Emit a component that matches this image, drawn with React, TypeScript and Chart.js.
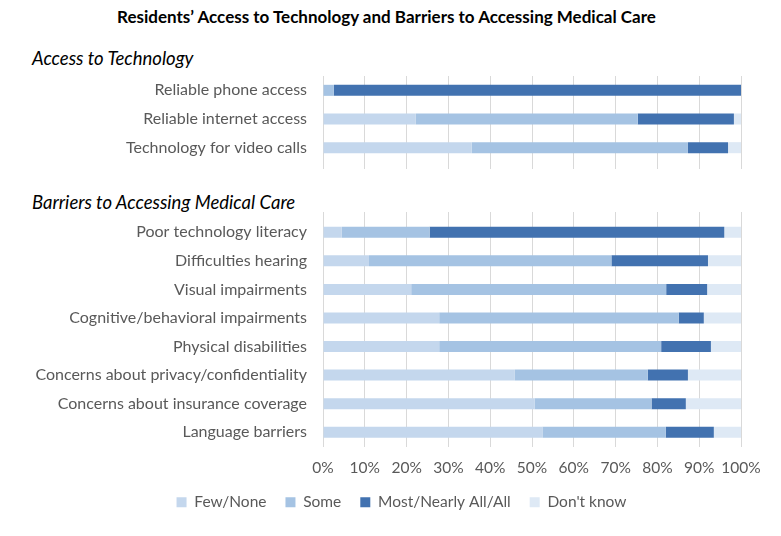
import React, { useEffect, useRef } from "react";
import { Chart, registerables } from "chart.js";

Chart.register(...registerables);

const seriesNames = ["Few/None", "Some", "Most/Nearly All/All", "Don't know"];
const seriesColors = ["#C4D7ED", "#A5C3E3", "#4272B0", "#DEE9F5"];

const mainTitle = "Residents\u2019 Access to Technology and Barriers to Accessing Medical Care";
const techHeader = "Access to Technology";
const barrierHeader = "Barriers to Accessing Medical Care";

const techCategories = [
  "Reliable phone access",
  "Reliable internet access",
  "Technology for video calls",
];
const techFewNone = [0, 22.2, 35.6];
const techSome = [2.6, 53.1, 51.7];
const techMost = [97.4, 23.0, 9.6];
const techDontKnow = [0, 1.7, 3.1];

const barrierCategories = [
  "Poor technology literacy",
  "Difficulties hearing",
  "Visual impairments",
  "Cognitive/behavioral impairments",
  "Physical disabilities",
  "Concerns about privacy/confidentiality",
  "Concerns about insurance coverage",
  "Language barriers",
];
const barrierFewNone = [4.5, 11.0, 21.1, 27.8, 27.8, 45.9, 50.6, 52.5];
const barrierSome = [21.0, 58.0, 61.0, 57.3, 53.1, 31.8, 28.0, 29.5];
const barrierMost = [70.5, 23.1, 9.8, 6.0, 11.9, 9.6, 8.2, 11.5];
const barrierDontKnow = [4.0, 7.9, 8.1, 8.9, 7.2, 12.7, 13.2, 6.5];

const axisMin = 0;
const axisMax = 100;
const axisStep = 10;

const FONT = "Lato";
const TEXT_GRAY = "#595959";
const GRID = "#D9D9D9";
const PAD_LEFT = 8;
const PAD_RIGHT = 40;
const PLOT_LEFT = 323;
const LEGEND_DX = 27;
const LEGEND_DY = -14.5;

const legendShift = {
  id: "legendShift",
  afterLayout(chart: any) {
    const lg = chart.legend;
    if (lg && lg.options && lg.options.display) {
      lg.left += LEGEND_DX;
      lg.right += LEGEND_DX;
      lg.top += LEGEND_DY;
      lg.bottom += LEGEND_DY;
    }
  },
};

function buildDatasets(values: number[][]) {
  return values.map((v, i) => ({
    label: seriesNames[i],
    data: v,
    backgroundColor: seriesColors[i],
    borderWidth: 0,
    categoryPercentage: 1,
    barPercentage: 0.385,
  }));
}

function makeConfig(
  labels: string[],
  values: number[][],
  showAxis: boolean,
  padding: { top: number; bottom: number }
): any {
  const scales: any = {
    x: {
      type: "linear",
      stacked: true,
      min: axisMin,
      max: axisMax,
      border: { display: false },
      grid: {
        color: GRID,
        lineWidth: 1,
        drawTicks: !showAxis,
        tickLength: 7,
      },
      ticks: {
        display: showAxis,
        stepSize: axisStep,
        padding: 14,
        maxRotation: 0,
        minRotation: 0,
        autoSkip: false,
        color: TEXT_GRAY,
        font: { family: FONT, size: 15.5, lineHeight: 1 },
        callback: (v: any) => v + "%",
      },
    },
    y: {
      type: "category",
      stacked: true,
      border: { display: false },
      grid: { display: false, drawTicks: false },
      ticks: {
        padding: 16,
        autoSkip: false,
        color: TEXT_GRAY,
        font: { family: FONT, size: 16 },
      },
      afterFit: (scale: any) => {
        scale.width = PLOT_LEFT - PAD_LEFT;
        scale.paddingTop = 0;
        scale.paddingBottom = 0;
      },
    },
  };
  if (showAxis) {
    scales.x2 = {
      type: "linear",
      position: "top",
      min: axisMin,
      max: axisMax,
      border: { display: false },
      grid: {
        color: GRID,
        lineWidth: 1,
        drawOnChartArea: false,
        drawTicks: true,
        tickLength: 6,
      },
      ticks: { display: false, stepSize: axisStep },
    };
  }
  return {
    type: "bar",
    data: { labels, datasets: buildDatasets(values) },
    plugins: [legendShift],
    options: {
      indexAxis: "y",
      animation: false,
      responsive: false,
      maintainAspectRatio: false,
      layout: {
        padding: {
          left: PAD_LEFT,
          right: PAD_RIGHT,
          top: padding.top,
          bottom: padding.bottom,
        },
      },
      plugins: {
        title: { display: false },
        tooltip: { enabled: false },
        legend: {
          display: showAxis,
          position: "bottom",
          align: "center",
          labels: {
            boxWidth: 10,
            boxHeight: 10,
            padding: 19,
            color: TEXT_GRAY,
            font: { family: FONT, size: 15.5 },
          },
        },
      },
      scales,
    },
  };
}

function BarCanvas(props: {
  top: number;
  height: number;
  labels: string[];
  values: number[][];
  showAxis: boolean;
  padding: { top: number; bottom: number };
}) {
  const ref = useRef<HTMLCanvasElement | null>(null);
  useEffect(() => {
    if (!ref.current) return;
    const chart = new Chart(
      ref.current,
      makeConfig(props.labels, props.values, props.showAxis, props.padding)
    );
    return () => chart.destroy();
  }, []);
  return (
    <canvas
      ref={ref}
      width={781}
      height={props.height}
      style={{ position: "absolute", left: 0, top: props.top, width: 781, height: props.height }}
    />
  );
}

export default function App() {
  const headerStyle: React.CSSProperties = {
    position: "absolute",
    left: 32,
    fontFamily: FONT,
    fontStyle: "italic",
    fontSize: 18.5,
    lineHeight: "22px",
    color: "#000",
    whiteSpace: "nowrap",
  };
  return (
    <div
      style={{
        position: "absolute",
        left: 0,
        top: 0,
        width: 781,
        height: 536,
        background: "#fff",
        overflow: "hidden",
      }}
    >
      <div
        style={{
          position: "absolute",
          left: 0,
          top: 6,
          width: 773,
          textAlign: "center",
          fontFamily: FONT,
          fontWeight: 700,
          fontSize: 17,
          lineHeight: "22px",
          color: "#000",
          whiteSpace: "nowrap",
        }}
      >
        {mainTitle}
      </div>
      <div style={{ ...headerStyle, top: 47 }}>{techHeader}</div>
      <div style={{ ...headerStyle, top: 191 }}>{barrierHeader}</div>
      <BarCanvas
        top={70}
        height={100}
        labels={techCategories}
        values={[techFewNone, techSome, techMost, techDontKnow]}
        showAxis={false}
        padding={{ top: 6, bottom: 1 }}
      />
      <BarCanvas
        top={206}
        height={330}
        labels={barrierCategories}
        values={[barrierFewNone, barrierSome, barrierMost, barrierDontKnow]}
        showAxis={true}
        padding={{ top: 6, bottom: 1.5 }}
      />
    </div>
  );
}
